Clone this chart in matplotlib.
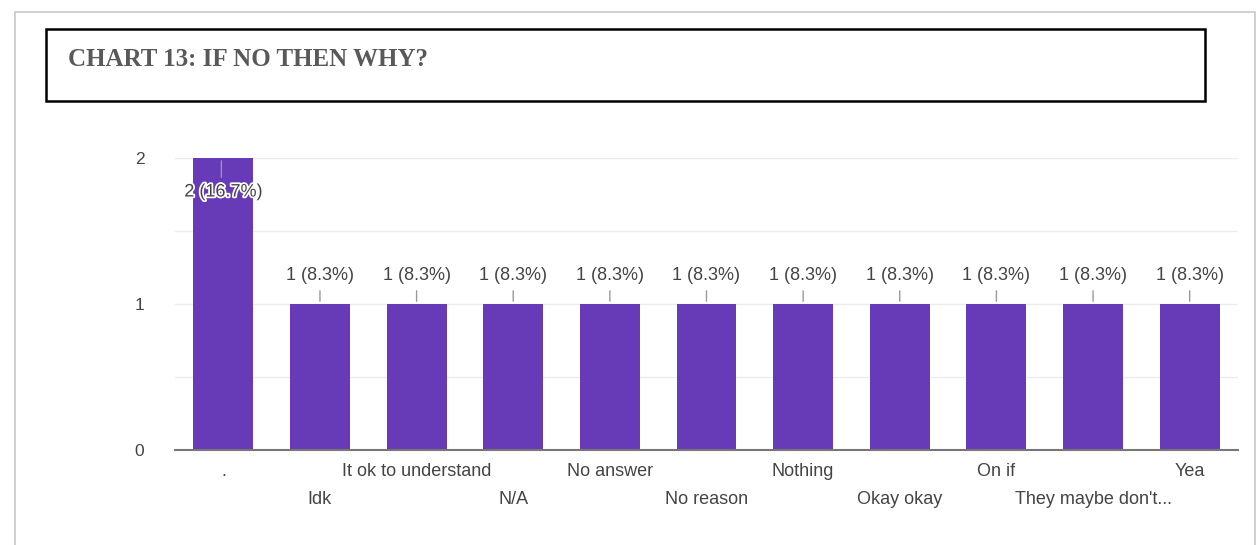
import matplotlib.pyplot as plt
import matplotlib.patheffects as pe
from matplotlib.patches import Rectangle

categories = ['.', 'Idk', 'It ok to understand', 'N/A', 'No answer', 'No reason',
              'Nothing', 'Okay okay', 'On if', "They maybe don't...", 'Yea']
counts = [2, 1, 1, 1, 1, 1, 1, 1, 1, 1, 1]
labels = ['2 (16.7%)'] + ['1 (8.3%)'] * 10
title = 'CHART 13: IF NO THEN WHY?'

plt.rcParams['font.family'] = ['Liberation Sans', 'DejaVu Sans']

fig = plt.figure(figsize=(12.58, 5.45), dpi=100)
W, H = 1258, 545

# outer panel border
fig.patches.append(Rectangle((15 / W, -0.1), (1240 / W), (545 - 12) / H + 0.1,
                             transform=fig.transFigure, fill=False,
                             edgecolor='#c8c8c8', linewidth=1.2))
# title box
fig.patches.append(Rectangle((46 / W, 1 - 101 / H), (1205 - 46) / W, 72 / H,
                             transform=fig.transFigure, fill=False,
                             edgecolor='black', linewidth=1.8))
fig.text(68 / W, 1 - 59 / H, title, fontsize=18, fontweight='bold',
         family='Liberation Serif', color='#595959', va='center', ha='left')

ax = fig.add_axes([175 / W, 1 - 450 / H, (1238 - 175) / W, (450 - 158) / H])
x = range(len(categories))
ax.bar(x, counts, width=0.62, color='#673ab7', zorder=2)
ax.set_xlim(-0.5, 10.5)
ax.set_ylim(0, 2)
ax.set_yticks([0, 1, 2])
ax.set_yticks([0.5, 1.5], minor=True)
ax.grid(axis='y', which='both', color='#ececec', linewidth=1, zorder=0)
ax.tick_params(axis='y', which='both', length=0, pad=22, labelsize=12.5,
               labelcolor='#444444')
ax.tick_params(axis='x', length=0)
ax.set_xticks(list(x))
ax.set_xticklabels([])
for s in ['top', 'right', 'left']:
    ax.spines[s].set_visible(False)
ax.spines['bottom'].set_color('#777777')
ax.spines['bottom'].set_linewidth(1.5)

# category labels in two staggered rows
for i, c in enumerate(categories):
    yoff = -22 if i % 2 == 0 else -49
    ax.annotate(c, (i, 0), xytext=(0, yoff), textcoords='offset pixels',
                ha='center', va='center', fontsize=13, color='#444444')

# data labels with leader lines
halo = [pe.withStroke(linewidth=2.5, foreground='white')]
for i, (v, lab) in enumerate(zip(counts, labels)):
    if v == max(counts):
        ax.annotate('', (i - 0.02, v), xytext=(0, -22), textcoords='offset pixels',
                    arrowprops=dict(arrowstyle='-', color='#999999', lw=1))
        ax.annotate(lab, (i, v), xytext=(0, -34), textcoords='offset pixels',
                    ha='center', va='center', fontsize=13, color='#444444',
                    path_effects=halo)
    else:
        ax.annotate('', (i, v), xytext=(0, 16), textcoords='offset pixels',
                    arrowprops=dict(arrowstyle='-', color='#999999', lw=1))
        ax.annotate(lab, (i, v), xytext=(0, 28), textcoords='offset pixels',
                    ha='center', va='center', fontsize=13, color='#444444')

fig.savefig('out.png', dpi=100)
